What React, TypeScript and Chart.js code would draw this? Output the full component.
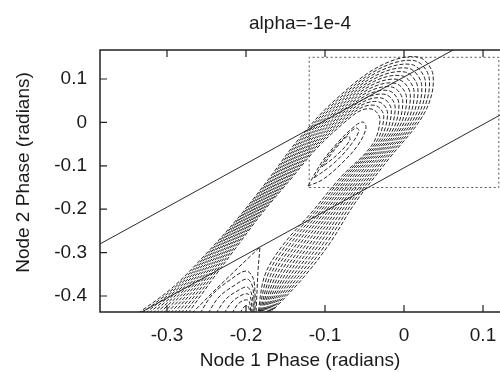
import React, { useEffect, useRef } from 'react';
import { Chart, registerables } from 'chart.js';

Chart.register(...registerables);

// ---- text ----
const chartTitle = 'alpha=-1e-4';
const xTitle = 'Node 1 Phase (radians)';
const yTitle = 'Node 2 Phase (radians)';

// ---- axes ----
const xTickValues = [-0.3, -0.2, -0.1, 0, 0.1];
const yTickValues = [-0.4, -0.3, -0.2, -0.1, 0, 0.1];
const xMin = -0.3848;
const xMax = 0.1215;
const yMin = -0.4369;
const yMax = 0.1668;

// ---- solid boundary lines ----
const upperLine = [[-0.4, -0.2953], [0.2, 0.3047]];
const lowerLine = [[-0.4, -0.5047], [0.2, 0.0953]];

// ---- dotted box ----
const zoomBox = [[-0.12, -0.15], [0.12, -0.15], [0.12, 0.15], [-0.12, 0.15], [-0.12, -0.15]];

// ---- dashed contours: outer hairpin curves (outermost first) ----
const hairpin00 = [[-0.3367, -0.44], [-0.2937, -0.3816], [-0.2519, -0.3055], [-0.2101, -0.2203], [-0.1722, -0.1327], [-0.1342, -0.0406], [-0.0873, 0.0516], [-0.0304, 0.13], [0.0177, 0.1507], [0.0367, 0.1092], [0.0266, 0.024], [-0.0203, -0.0866], [-0.062, -0.1857], [-0.0937, -0.2779], [-0.1278, -0.3585], [-0.1696, -0.44]];
const hairpin01 = [[-0.3322, -0.44], [-0.2901, -0.3803], [-0.2489, -0.3039], [-0.2079, -0.2193], [-0.1702, -0.1327], [-0.1325, -0.0419], [-0.0864, 0.048], [-0.0321, 0.1228], [0.0137, 0.142], [0.0319, 0.1018], [0.0218, 0.0186], [-0.0247, -0.0896], [-0.0659, -0.1872], [-0.098, -0.2783], [-0.1313, -0.358], [-0.1707, -0.44]];
const hairpin02 = [[-0.3277, -0.44], [-0.2865, -0.379], [-0.2459, -0.3022], [-0.2056, -0.2183], [-0.1682, -0.1327], [-0.1308, -0.0432], [-0.0855, 0.0444], [-0.0337, 0.1155], [0.0097, 0.1333], [0.0271, 0.0944], [0.017, 0.0131], [-0.029, -0.0925], [-0.0698, -0.1887], [-0.1022, -0.2786], [-0.1347, -0.3575], [-0.1718, -0.44]];
const hairpin03 = [[-0.3232, -0.44], [-0.2829, -0.3777], [-0.243, -0.3006], [-0.2034, -0.2174], [-0.1662, -0.1327], [-0.1291, -0.0446], [-0.0846, 0.0408], [-0.0353, 0.1083], [0.0058, 0.1246], [0.0223, 0.087], [0.0122, 0.0077], [-0.0333, -0.0955], [-0.0737, -0.1902], [-0.1065, -0.2789], [-0.1382, -0.357], [-0.1729, -0.44]];
const hairpin04 = [[-0.3186, -0.44], [-0.2792, -0.3763], [-0.24, -0.2989], [-0.2011, -0.2164], [-0.1642, -0.1327], [-0.1273, -0.0459], [-0.0837, 0.0371], [-0.0369, 0.101], [0.0018, 0.1158], [0.0175, 0.0796], [0.0074, 0.0023], [-0.0376, -0.0985], [-0.0776, -0.1916], [-0.1107, -0.2792], [-0.1416, -0.3565], [-0.1739, -0.44]];
const hairpin05 = [[-0.3141, -0.44], [-0.2756, -0.375], [-0.237, -0.2973], [-0.1989, -0.2154], [-0.1622, -0.1327], [-0.1256, -0.0472], [-0.0828, 0.0335], [-0.0386, 0.0938], [-0.0022, 0.1071], [0.0127, 0.0722], [0.0026, -0.0032], [-0.042, -0.1015], [-0.0815, -0.1931], [-0.115, -0.2796], [-0.1451, -0.356], [-0.175, -0.44]];
const hairpin06 = [[-0.3096, -0.44], [-0.272, -0.3737], [-0.234, -0.2956], [-0.1966, -0.2144], [-0.1602, -0.1327], [-0.1239, -0.0485], [-0.0819, 0.0299], [-0.0402, 0.0865], [-0.0062, 0.0984], [0.0079, 0.0648], [-0.0022, -0.0086], [-0.0463, -0.1044], [-0.0854, -0.1946], [-0.1192, -0.2799], [-0.1485, -0.3555], [-0.1761, -0.44]];
const hairpin07 = [[-0.3051, -0.44], [-0.2684, -0.3724], [-0.231, -0.294], [-0.1943, -0.2134], [-0.1583, -0.1327], [-0.1222, -0.0498], [-0.081, 0.0263], [-0.0418, 0.0793], [-0.0102, 0.0897], [0.0032, 0.0574], [-0.007, -0.0141], [-0.0507, -0.1074], [-0.0893, -0.1961], [-0.1235, -0.2802], [-0.1519, -0.3551], [-0.1772, -0.44]];
const hairpin08 = [[-0.3005, -0.44], [-0.2647, -0.371], [-0.228, -0.2924], [-0.192, -0.2124], [-0.1563, -0.1327], [-0.1204, -0.0511], [-0.0801, 0.0226], [-0.0434, 0.0721], [-0.0141, 0.0809], [-0.0016, 0.0499], [-0.0117, -0.0195], [-0.055, -0.1103], [-0.0931, -0.1976], [-0.1277, -0.2805], [-0.1553, -0.3546], [-0.1783, -0.44]];
const hairpin09 = [[-0.296, -0.44], [-0.2611, -0.3697], [-0.225, -0.2908], [-0.1898, -0.2114], [-0.1543, -0.1327], [-0.1187, -0.0524], [-0.0792, 0.019], [-0.0451, 0.0649], [-0.0181, 0.0722], [-0.0064, 0.0425], [-0.0165, -0.025], [-0.0594, -0.1133], [-0.097, -0.1991], [-0.132, -0.2809], [-0.1588, -0.3541], [-0.1794, -0.44]];
const hairpin10 = [[-0.2915, -0.44], [-0.2575, -0.3684], [-0.222, -0.2891], [-0.1875, -0.2104], [-0.1523, -0.1327], [-0.117, -0.0537], [-0.0783, 0.0154], [-0.0467, 0.0576], [-0.0221, 0.0635], [-0.0112, 0.0351], [-0.0213, -0.0304], [-0.0637, -0.1162], [-0.1009, -0.2006], [-0.1362, -0.2812], [-0.1622, -0.3536], [-0.1805, -0.44]];
const hairpin11 = [[-0.287, -0.44], [-0.2539, -0.3671], [-0.2191, -0.2875], [-0.1853, -0.2095], [-0.1503, -0.1327], [-0.1153, -0.0551], [-0.0774, 0.0118], [-0.0483, 0.0504], [-0.0261, 0.0548], [-0.016, 0.0277], [-0.0261, -0.0358], [-0.068, -0.1192], [-0.1048, -0.2021], [-0.1405, -0.2815], [-0.1657, -0.3531], [-0.1816, -0.44]];
const hairpin12 = [[-0.2824, -0.44], [-0.2502, -0.3657], [-0.2161, -0.2858], [-0.183, -0.2085], [-0.1483, -0.1327], [-0.1135, -0.0564], [-0.0765, 0.0081], [-0.0499, 0.0431], [-0.03, 0.046], [-0.0208, 0.0203], [-0.0309, -0.0412], [-0.0723, -0.1222], [-0.1087, -0.2035], [-0.1447, -0.2818], [-0.1691, -0.3526], [-0.1826, -0.44]];
const hairpin13 = [[-0.2779, -0.44], [-0.2466, -0.3644], [-0.2131, -0.2842], [-0.1808, -0.2075], [-0.1463, -0.1327], [-0.1118, -0.0577], [-0.0756, 0.0045], [-0.0516, 0.0359], [-0.034, 0.0373], [-0.0256, 0.0129], [-0.0357, -0.0467], [-0.0767, -0.1252], [-0.1126, -0.205], [-0.149, -0.2822], [-0.1726, -0.3521], [-0.1837, -0.44]];
const hairpin14 = [[-0.2734, -0.44], [-0.243, -0.3631], [-0.2101, -0.2825], [-0.1785, -0.2065], [-0.1443, -0.1327], [-0.1101, -0.059], [-0.0747, 0.0009], [-0.0532, 0.0286], [-0.038, 0.0286], [-0.0304, 0.0055], [-0.0405, -0.0521], [-0.081, -0.1281], [-0.1165, -0.2065], [-0.1532, -0.2825], [-0.176, -0.3516], [-0.1848, -0.44]];

// ---- dashed contours: closed loops of the upper well ----
const upperLoop2 = [[-0.1215, -0.1465], [-0.1038, -0.0912], [-0.081, -0.0406], [-0.062, -0.0083], [-0.0519, 0.0009], [-0.0481, -0.0129], [-0.0582, -0.0521], [-0.081, -0.0982], [-0.1038, -0.1327], [-0.1215, -0.1465]];
const upperLoop1 = [[-0.1139, -0.1281], [-0.0962, -0.0774], [-0.0747, -0.0336], [-0.0608, -0.0129], [-0.057, -0.0198], [-0.0684, -0.0544], [-0.0899, -0.0959], [-0.1139, -0.1281]];
const upperLoop0 = [[-0.1038, -0.1028], [-0.0861, -0.059], [-0.0709, -0.0313], [-0.0684, -0.0406], [-0.0835, -0.0728], [-0.1038, -0.1028]];

// ---- dashed contours: arcs of the lower well ----
const lowerSeparatrix = [[-0.2684, -0.44], [-0.2392, -0.3862], [-0.2076, -0.3309], [-0.1823, -0.2871], [-0.1848, -0.3401], [-0.1861, -0.3908], [-0.1873, -0.44]];
const lowerArc5 = [[-0.2582, -0.44], [-0.243, -0.3977], [-0.2203, -0.3631], [-0.2, -0.3424], [-0.1911, -0.3585], [-0.1886, -0.3954], [-0.1886, -0.44]];
const lowerArc4 = [[-0.2481, -0.44], [-0.2342, -0.4023], [-0.2139, -0.3747], [-0.1987, -0.3608], [-0.1924, -0.3747], [-0.1899, -0.4046], [-0.1899, -0.44]];
const lowerArc3 = [[-0.238, -0.44], [-0.2253, -0.4069], [-0.2089, -0.3862], [-0.1987, -0.3793], [-0.1937, -0.3908], [-0.1911, -0.4138], [-0.1911, -0.44]];
const lowerArc2 = [[-0.2278, -0.44], [-0.2177, -0.4138], [-0.2051, -0.3977], [-0.1975, -0.3954], [-0.1937, -0.4069], [-0.1924, -0.44]];
const lowerArc1 = [[-0.2177, -0.44], [-0.2101, -0.4184], [-0.2013, -0.4092], [-0.1962, -0.4115], [-0.1937, -0.44]];
const lowerArc0 = [[-0.2076, -0.44], [-0.2025, -0.4253], [-0.1975, -0.423], [-0.1949, -0.44]];

const hairpins = [
  hairpin00, hairpin01, hairpin02, hairpin03, hairpin04, hairpin05, hairpin06, hairpin07,
  hairpin08, hairpin09, hairpin10, hairpin11, hairpin12, hairpin13, hairpin14,
];
const upperLoops = [upperLoop2, upperLoop1, upperLoop0];
const lowerArcs = [lowerArc5, lowerArc4, lowerArc3, lowerArc2, lowerArc1, lowerArc0];

const FONT = '"Liberation Sans", Arial, Helvetica, sans-serif';
const TEXT = '#1a1a1a';

const toPts = (a: number[][]) => a.map(([x, y]) => ({ x, y }));

const contour = (a: number[][], tension: number) => ({
  data: toPts(a),
  showLine: true,
  borderColor: '#262626',
  borderWidth: 1,
  borderDash: [4, 2],
  pointRadius: 0,
  fill: false,
  tension,
});

const framePlugin = {
  id: 'gnuFrame',
  afterDraw(chart: any) {
    const { ctx, chartArea: a, scales } = chart;
    ctx.save();
    ctx.strokeStyle = '#222';
    ctx.lineWidth = 1.5;
    ctx.beginPath();
    ctx.moveTo(a.right + 5, a.top);
    ctx.lineTo(a.left, a.top);
    ctx.lineTo(a.left, a.bottom);
    ctx.lineTo(a.right + 5, a.bottom);
    ctx.stroke();
    ctx.lineWidth = 1.2;
    ctx.beginPath();
    for (const v of xTickValues) {
      const px = scales.x.getPixelForValue(v);
      ctx.moveTo(px, a.bottom);
      ctx.lineTo(px, a.bottom - 7);
      ctx.moveTo(px, a.top);
      ctx.lineTo(px, a.top + 7);
    }
    for (const v of yTickValues) {
      const py = scales.y.getPixelForValue(v);
      ctx.moveTo(a.left, py);
      ctx.lineTo(a.left + 7, py);
    }
    ctx.stroke();
    ctx.translate(23.5, (a.top + a.bottom) / 2 - 8.5);
    ctx.rotate(-Math.PI / 2);
    ctx.font = `19px ${FONT}`;
    ctx.textAlign = 'center';
    ctx.textBaseline = 'middle';
    ctx.fillStyle = TEXT;
    ctx.fillText(yTitle, 0, 0);
    ctx.restore();
  },
};

const fmt = (v: number) => String(Math.round(v * 10) / 10);

export default function App() {
  const ref = useRef<HTMLCanvasElement>(null);

  useEffect(() => {
    const canvas = ref.current;
    if (!canvas) return;
    const datasets: any[] = [];
    hairpins.forEach((h) => datasets.push(contour(h, 0.35)));
    upperLoops.forEach((h) => datasets.push(contour(h, 0.35)));
    datasets.push(contour(lowerSeparatrix, 0));
    lowerArcs.forEach((h) => datasets.push(contour(h, 0.35)));
    datasets.push({
      data: toPts(zoomBox),
      showLine: true,
      borderColor: '#555',
      borderWidth: 1,
      borderDash: [2, 2.5],
      pointRadius: 0,
      tension: 0,
    });
    [upperLine, lowerLine].forEach((l) =>
      datasets.push({
        data: toPts(l),
        showLine: true,
        borderColor: '#2a2a2a',
        borderWidth: 1,
        pointRadius: 0,
        tension: 0,
      })
    );

    const chart = new Chart(canvas, {
      type: 'scatter',
      data: { datasets },
      options: {
        animation: false,
        responsive: false,
        devicePixelRatio: 1,
        events: [],
        layout: { padding: 0 },
        plugins: {
          legend: { display: false },
          tooltip: { enabled: false },
          title: {
            display: true,
            text: chartTitle,
            fullSize: false,
            color: TEXT,
            font: { family: FONT, size: 19, weight: 'normal' },
            padding: { top: 12, bottom: 15.2 },
          },
        },
        scales: {
          x: {
            type: 'linear',
            min: xMin,
            max: xMax,
            afterBuildTicks: (s: any) => {
              s.ticks = xTickValues.map((v) => ({ value: v }));
            },
            afterFit: (s: any) => {
              s.height = 60;
            },
            border: { display: false },
            grid: { drawOnChartArea: false, drawTicks: true, tickLength: 12, color: 'rgba(0,0,0,0)' },
            ticks: {
              padding: 0,
              maxRotation: 0,
              autoSkip: false,
              color: TEXT,
              font: { family: FONT, size: 19 },
              callback: (v: any) => fmt(Number(v)),
            },
            title: {
              display: true,
              text: xTitle,
              color: TEXT,
              font: { family: FONT, size: 19 },
              padding: { top: 0, bottom: 0 },
            },
          },
          y: {
            type: 'linear',
            min: yMin,
            max: yMax,
            afterBuildTicks: (s: any) => {
              s.ticks = yTickValues.map((v) => ({ value: v }));
            },
            afterFit: (s: any) => {
              s.width = 100;
            },
            border: { display: false },
            grid: { drawOnChartArea: false, drawTicks: false },
            ticks: {
              padding: 13,
              autoSkip: false,
              color: TEXT,
              font: { family: FONT, size: 19 },
              callback: (v: any) => fmt(Number(v)),
            },
          },
        },
      },
      plugins: [framePlugin],
    } as any);
    return () => chart.destroy();
  }, []);

  return (
    <div style={{ position: 'fixed', left: 0, top: 0, width: 500, height: 372, background: '#fff', overflow: 'hidden' }}>
      <canvas ref={ref} width={500} height={372} style={{ display: 'block', width: '500px', height: '372px' }} />
    </div>
  );
}
